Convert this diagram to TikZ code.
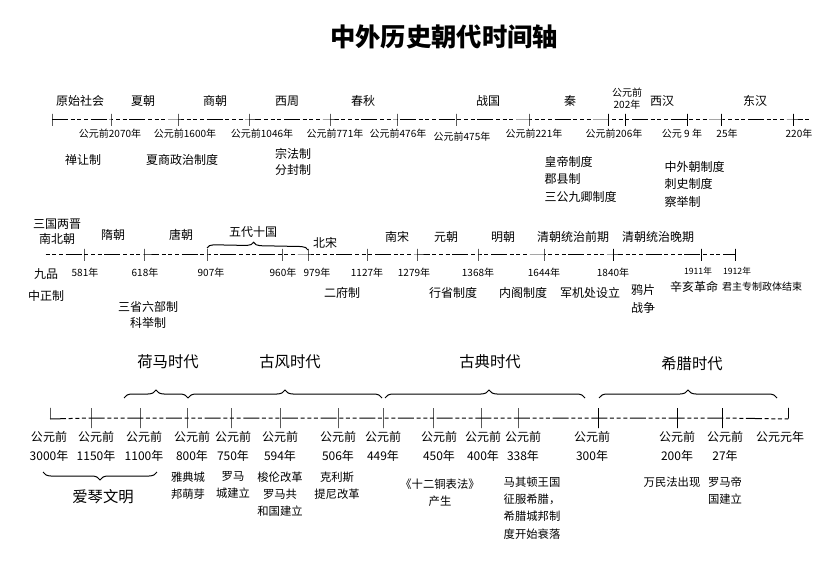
\documentclass[tikz,border=0pt]{standalone}
\usepackage{fontspec}
\setmainfont{Noto Sans CJK SC}
\usetikzlibrary{decorations.pathreplacing}
\tikzset{every picture/.style={line width=0.75pt}}
\tikzset{
  tick/.style={draw, inner sep=0pt, minimum width=0pt, minimum height=9pt},
  longtick/.style={draw, inner sep=0pt, minimum width=0pt, minimum height=15pt},
  endtick/.style={draw, inner sep=0pt, minimum width=0pt, minimum height=8pt, anchor=south},
  axis/.style={dash pattern=on 12pt off 2pt on 3pt off 2pt on 3pt off 2pt on 3pt off 2pt},
  era/.style={font=\fontsize{9}{11}\selectfont, inner sep=0.75pt, align=center},
  date/.style={font=\fontsize{7.5}{9}\selectfont, inner sep=0.75pt, align=center},
  small/.style={font=\fontsize{6.5}{8}\selectfont, inner sep=0.75pt},
  note/.style={font=\fontsize{9}{13}\selectfont, inner sep=0.75pt, align=left},
  year/.style={font=\fontsize{9}{14}\selectfont, inner sep=0.75pt, align=center, anchor=north},
  event/.style={font=\fontsize{8.5}{13}\selectfont, inner sep=0.75pt, align=center, anchor=north},
  age/.style={font=\fontsize{11.5}{14}\selectfont, inner sep=0.75pt},
  agebrace/.style={decorate, decoration={brace, amplitude=6pt}}
}
\begin{document}
\begin{tikzpicture}[x=0.75pt,y=0.75pt,yscale=-1,xscale=1]
\useasboundingbox (0,0) rectangle (827,584);

% Title
\node (title) at (444,37) [font=\fontsize{19}{22}\selectfont\bfseries] {中外历史朝代时间轴};

%%% Row 1: ancient China
% Ticks
\node [tick] (a0) at (52,120) {};
\node [tick] (a1) at (111,120) {};
\node [tick] (a2) at (178,120) {};
\node [tick] (a3) at (249,120) {};
\node [tick] (a4) at (330,120) {};
\node [tick] (a5) at (397,120) {};
\node [tick] (a6) at (456,120) {};
\node [tick] (a7) at (529,120) {};
\node [tick] (a8) at (608,120) {};
\node [tick] (a9) at (625,120) {};
\node [tick] (a10) at (687,120) {};
\node [tick] (a11) at (721,120) {};
\node [tick] (a12) at (793,120) {};
\coordinate (a13) at (810,120);
% Axis
\draw [axis] (a0.center) -- (a1.center) -- (a2.center) -- (a3.center) -- (a4.center) -- (a5.center) -- (a6.center) -- (a7.center) -- (a8.center) -- (a9.center) -- (a10.center) -- (a11.center) -- (a12.center) -- (a13);
% Dynasties
\node [era] (yuanshi) at (80,101) {原始社会};
\node [era] (xia) at (143,101) {夏朝};
\node [era] (shang) at (215,101) {商朝};
\node [era] (xizhou) at (287,101) {西周};
\node [era] (chunqiu) at (363,101) {春秋};
\node [era] (zhanguo) at (488,101) {战国};
\node [era] (qin) at (570,101) {秦};
\node [date] (bc202) at (627,99) {公元前\\202年};
\node [era] (xihan) at (662,101) {西汉};
\node [era] (donghan) at (755,101) {东汉};
% Dates
\node [date] (d2070) at (110,134) {公元前2070年};
\node [date] (d1600) at (185,134) {公元前1600年};
\node [date] (d1046) at (262,134) {公元前1046年};
\node [date] (d771) at (335,134) {公元前771年};
\node [date] (d476) at (398,134) {公元前476年};
\node [date] (d475) at (462,137) {公元前475年};
\node [date] (d221) at (534,134) {公元前221年};
\node [date] (d206) at (614,134) {公元前206年};
\node [date] (d9) at (682,134) {公元 9 年};
\node [date] (d25) at (727,134) {25年};
\node [date] (d220) at (799,134) {220年};
% Institutions
\node [note] (shanrang) at (83,160) {禅让制};
\node [note] (xiashang) at (182,160) {夏商政治制度};
\node [note, font=\fontsize{9}{11.5}\selectfont] (zongfa) at (293,162) {宗法制\\分封制};
\node [note, anchor=north west] (huangdi) at (543,155) {皇帝制度\\郡县制\\三公九卿制度};
\node [note, anchor=north west] (zhongwai) at (663,160) {中外朝制度\\刺史制度\\察举制};

%%% Row 2: later China
% Ticks
\coordinate (b0) at (43,255);
\node [tick] (b1) at (84,255) {};
\node [tick] (b2) at (144,255) {};
\node [tick] (b3) at (207,255) {};
\node [tick] (b4) at (282,255) {};
\node [tick] (b5) at (308,255) {};
\node [tick] (b6) at (367,255) {};
\node [tick] (b7) at (417,255) {};
\node [tick] (b8) at (478,255) {};
\node [tick] (b9) at (544,255) {};
\node [tick] (b10) at (613,255) {};
\node [tick] (b11) at (701,255) {};
\node [tick] (b12) at (735,255) {};
% Axis
\draw [axis, dash phase=12pt] (b0) -- (b1.center) -- (b2.center) -- (b3.center) -- (b4.center) -- (b5.center) -- (b6.center) -- (b7.center) -- (b8.center) -- (b9.center) -- (b10.center) -- (b11.center) -- (b12.center);
% Dynasties
\node [era] (sanguo) at (57,232) {三国两晋\\南北朝};
\node [era] (sui) at (113,235) {隋朝};
\node [era] (tang) at (181,235) {唐朝};
\node [era] (wudai) at (253,232) {五代十国};
\node [era] (beisong) at (325,243) {北宋};
\node [era] (nansong) at (397,237) {南宋};
\node [era] (yuan) at (446,237) {元朝};
\node [era] (ming) at (503,237) {明朝};
\node [era] (qingqian) at (573,237) {清朝统治前期};
\node [era] (qingwan) at (658,237) {清朝统治晚期};
% Brace
\coordinate (w1) at (207,248);
\coordinate (w2) at (308,250);
\draw [decorate, decoration={brace, amplitude=5pt, aspect=0.46}] (w1) -- (w2);
% Dates
\node [date] (y581) at (85,273) {581年};
\node [date] (y618) at (145,273) {618年};
\node [date] (y907) at (211,273) {907年};
\node [date] (y960) at (283,273) {960年};
\node [date] (y979) at (317,273) {979年};
\node [date] (y1127) at (367,273) {1127年};
\node [date] (y1279) at (414,273) {1279年};
\node [date] (y1368) at (478,273) {1368年};
\node [date] (y1644) at (544,273) {1644年};
\node [date] (y1840) at (613,273) {1840年};
\node [small] (y1911) at (698,271) {1911年};
\node [small] (y1912) at (737,271) {1912年};
% Institutions
\node [note, align=center, font=\fontsize{9}{17}\selectfont] (jiupin) at (46,285) {九品\\中正制};
\node [note, align=center, font=\fontsize{9}{11.5}\selectfont] (sansheng) at (148,315) {三省六部制\\科举制};
\node [note] (erfu) at (342,293) {二府制};
\node [note] (xingsheng) at (453,293) {行省制度};
\node [note] (neige) at (523,293) {内阁制度};
\node [note] (junji) at (590,293) {军机处设立};
\node [note, align=center] (yapian) at (643,299) {鸦片\\战争};
\node [note] (xinhai) at (694,287) {辛亥革命};
\node [note, font=\fontsize{7.5}{9}\selectfont] (junzhu) at (762,287) {君主专制政体结束};

%%% Row 3: ancient Greece and Rome
% Ticks
\node [endtick] (c0) at (50,419) {};
\node [longtick] (c1) at (91,418) {};
\node [longtick] (c2) at (140,418) {};
\node [longtick] (c3) at (187,418) {};
\node [longtick] (c4) at (231,418) {};
\node [longtick] (c5) at (280,418) {};
\node [longtick] (c6) at (338,418) {};
\node [longtick] (c7) at (383,418) {};
\node [longtick] (c8) at (433,418) {};
\node [longtick] (c9) at (481,418) {};
\node [longtick] (c10) at (518,418) {};
\node [longtick] (c11) at (598,418) {};
\node [longtick] (c12) at (677,418) {};
\node [longtick] (c13) at (722,418) {};
\node [endtick] (c14) at (788,419) {};
% Axis
\draw [axis] (c0.south) -- (c1.center) -- (c2.center) -- (c3.center) -- (c4.center) -- (c5.center) -- (c6.center) -- (c7.center) -- (c8.center) -- (c9.center) -- (c10.center) -- (c11.center) -- (c12.center) -- (c13.center) -- (c14.south);
% Ages
\node [age] (homer) at (168,362) {荷马时代};
\node [age] (gufeng) at (290,362) {古风时代};
\node [age] (gudian) at (490,362) {古典时代};
\node [age] (xila) at (692,364) {希腊时代};
\node [age] (aiqin) at (103,497) {爱琴文明};
% Braces
\coordinate (h1) at (124,398);
\coordinate (h2) at (188,398);
\coordinate (g2) at (382,398);
\coordinate (k1) at (385,398);
\coordinate (k2) at (585,398);
\coordinate (x1) at (599,398);
\coordinate (x2) at (777,398);
\coordinate (e1) at (43,472);
\coordinate (e2) at (157,472);
\draw [agebrace] (h1) -- (h2);
\draw [agebrace] (h2) -- (g2);
\draw [agebrace, decoration={aspect=0.52}] (k1) -- (k2);
\draw [agebrace] (x1) -- (x2);
\draw [agebrace] (e2) -- (e1);
% Years
\node [year] (g3000) at (49,430) {公元前\\3000年};
\node [year] (g1150) at (96,430) {公元前\\1150年};
\node [year] (g1100) at (144,430) {公元前\\1100年};
\node [year] (g800) at (192,430) {公元前\\800年};
\node [year] (g750) at (233,430) {公元前\\750年};
\node [year] (g594) at (280,430) {公元前\\594年};
\node [year] (g506) at (338,430) {公元前\\506年};
\node [year] (g449) at (383,430) {公元前\\449年};
\node [year] (g450) at (439,430) {公元前\\450年};
\node [year] (g400) at (483,430) {公元前\\400年};
\node [year] (g338) at (523,430) {公元前\\338年};
\node [year] (g300) at (592,430) {公元前\\300年};
\node [year] (g200) at (677,430) {公元前\\200年};
\node [year] (g27) at (725,430) {公元前\\27年};
\node [year] (g1) at (780,430) {公元元年};
% Events
\node [event] (yadian) at (188,470) {雅典城\\邦萌芽};
\node [event] (luoma) at (233,470) {罗马\\城建立};
\node [event] (suolun) at (280,470) {梭伦改革\\罗马共\\和国建立};
\node [event] (kelisi) at (337,470) {克利斯\\提尼改革};
\node [event] (shierbiao) at (440,477) {《十二铜表法》\\产生};
\node [event] (maqidun) at (532,475) {马其顿王国\\征服希腊，\\希腊城邦制\\度开始衰落};
\node [event] (wanmin) at (672,475) {万民法出现};
\node [event] (diguo) at (725,475) {罗马帝\\国建立};

\end{tikzpicture}
\end{document}
